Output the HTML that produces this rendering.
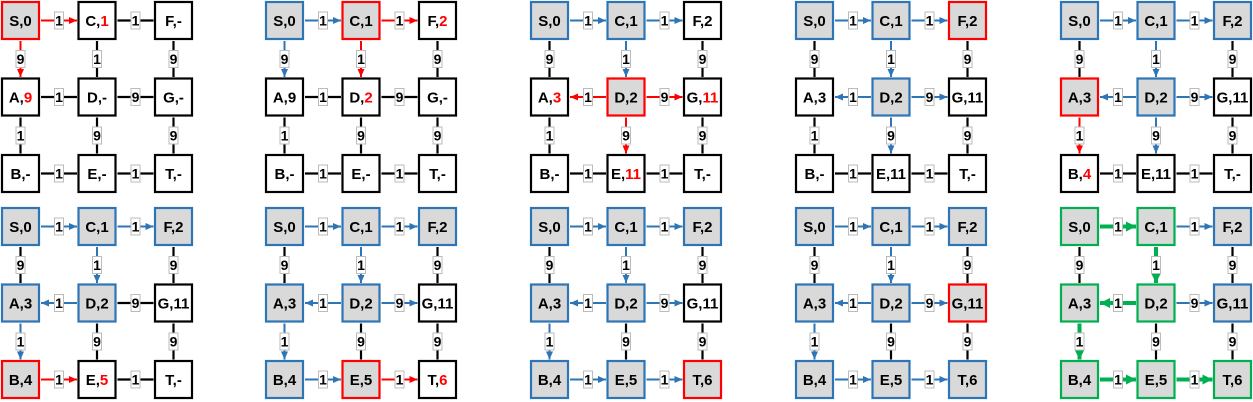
<!DOCTYPE html>
<html><head><meta charset="utf-8"><style>
html,body{margin:0;padding:0;background:#fff;}
svg{display:block;}
.k{stroke:#000;stroke-width:2.2;}
.r{stroke:#ff0000;stroke-width:2;marker-end:url(#mr);}
.b{stroke:#2e75b6;stroke-width:2;marker-end:url(#mb);}
.g{stroke:#00b050;stroke-width:4;marker-end:url(#mg);}
.n{fill:#fff;stroke:#000;stroke-width:2.2;}
.nb{fill:#d9d9d9;stroke:#2e75b6;stroke-width:2.2;}
.nr{fill:#d9d9d9;stroke:#ff0000;stroke-width:2.2;}
.ng{fill:#d9d9d9;stroke:#00b050;stroke-width:2.2;}
.l{fill:#fff;stroke:#bbb;stroke-width:1;}
text{font-family:"Liberation Sans",Arial,sans-serif;font-weight:bold;text-anchor:middle;fill:#000;}
.t{font-size:15px;}
.e{font-size:14px;}
.rd{fill:#ff0000;}
</style></head><body>
<svg width="1253" height="402" viewBox="0 0 1253 402" xmlns="http://www.w3.org/2000/svg">
<defs>
<marker id="mr" markerUnits="userSpaceOnUse" markerWidth="8" markerHeight="7" refX="8" refY="3.5" orient="auto"><path d="M0,0L8,3.5L0,7z" fill="#ff0000"/></marker>
<marker id="mb" markerUnits="userSpaceOnUse" markerWidth="8" markerHeight="7" refX="8" refY="3.5" orient="auto"><path d="M0,0L8,3.5L0,7z" fill="#2e75b6"/></marker>
<marker id="mg" markerUnits="userSpaceOnUse" markerWidth="10" markerHeight="10" refX="10" refY="5" orient="auto"><path d="M0,0L10,5L0,10z" fill="#00b050"/></marker>
</defs>

<!-- Panel 1 -->
<g transform="translate(1,1)">
<line class="r" x1="40" y1="19.5" x2="76" y2="19.5"/>
<line class="k" x1="116.5" y1="19.5" x2="152.5" y2="19.5"/>
<line class="k" x1="76" y1="96" x2="40" y2="96"/>
<line class="k" x1="116.5" y1="96" x2="152.5" y2="96"/>
<line class="k" x1="40" y1="172.5" x2="76" y2="172.5"/>
<line class="k" x1="116.5" y1="172.5" x2="152.5" y2="172.5"/>
<line class="r" x1="19.5" y1="40" x2="19.5" y2="76"/>
<line class="k" x1="96" y1="40" x2="96" y2="76"/>
<line class="k" x1="172.5" y1="40" x2="172.5" y2="76"/>
<line class="k" x1="19.5" y1="116.5" x2="19.5" y2="152.5"/>
<line class="k" x1="96" y1="116.5" x2="96" y2="152.5"/>
<line class="k" x1="172.5" y1="116.5" x2="172.5" y2="152.5"/>
<rect class="l" x="53.5" y="11" width="9" height="17"/><text class="e" x="58" y="24.5">1</text>
<rect class="l" x="130" y="11" width="9" height="17"/><text class="e" x="134.5" y="24.5">1</text>
<rect class="l" x="53.5" y="87.5" width="9" height="17"/><text class="e" x="58" y="101">1</text>
<rect class="l" x="130" y="87.5" width="9" height="17"/><text class="e" x="134.5" y="101">9</text>
<rect class="l" x="53.5" y="164" width="9" height="17"/><text class="e" x="58" y="177.5">1</text>
<rect class="l" x="130" y="164" width="9" height="17"/><text class="e" x="134.5" y="177.5">1</text>
<rect class="l" x="15" y="49.5" width="9" height="17"/><text class="e" x="19.5" y="63">9</text>
<rect class="l" x="91.5" y="49.5" width="9" height="17"/><text class="e" x="96" y="63">1</text>
<rect class="l" x="168" y="49.5" width="9" height="17"/><text class="e" x="172.5" y="63">9</text>
<rect class="l" x="15" y="126" width="9" height="17"/><text class="e" x="19.5" y="139.5">1</text>
<rect class="l" x="91.5" y="126" width="9" height="17"/><text class="e" x="96" y="139.5">9</text>
<rect class="l" x="168" y="126" width="9" height="17"/><text class="e" x="172.5" y="139.5">9</text>
<rect class="nr" x="1" y="1" width="37" height="37"/><text class="t" x="19.5" y="25">S,0</text>
<rect class="n" x="77.5" y="1" width="37" height="37"/><text class="t" x="96" y="25">C,<tspan class="rd">1</tspan></text>
<rect class="n" x="154" y="1" width="37" height="37"/><text class="t" x="172.5" y="25">F,-</text>
<rect class="n" x="1" y="77.5" width="37" height="37"/><text class="t" x="19.5" y="101.5">A,<tspan class="rd">9</tspan></text>
<rect class="n" x="77.5" y="77.5" width="37" height="37"/><text class="t" x="96" y="101.5">D,-</text>
<rect class="n" x="154" y="77.5" width="37" height="37"/><text class="t" x="172.5" y="101.5">G,-</text>
<rect class="n" x="1" y="154" width="37" height="37"/><text class="t" x="19.5" y="178">B,-</text>
<rect class="n" x="77.5" y="154" width="37" height="37"/><text class="t" x="96" y="178">E,-</text>
<rect class="n" x="154" y="154" width="37" height="37"/><text class="t" x="172.5" y="178">T,-</text>
</g>

<!-- Panel 2 -->
<g transform="translate(265,1)">
<line class="b" x1="40" y1="19.5" x2="76" y2="19.5"/>
<line class="r" x1="116.5" y1="19.5" x2="152.5" y2="19.5"/>
<line class="k" x1="76" y1="96" x2="40" y2="96"/>
<line class="k" x1="116.5" y1="96" x2="152.5" y2="96"/>
<line class="k" x1="40" y1="172.5" x2="76" y2="172.5"/>
<line class="k" x1="116.5" y1="172.5" x2="152.5" y2="172.5"/>
<line class="b" x1="19.5" y1="40" x2="19.5" y2="76"/>
<line class="r" x1="96" y1="40" x2="96" y2="76"/>
<line class="k" x1="172.5" y1="40" x2="172.5" y2="76"/>
<line class="k" x1="19.5" y1="116.5" x2="19.5" y2="152.5"/>
<line class="k" x1="96" y1="116.5" x2="96" y2="152.5"/>
<line class="k" x1="172.5" y1="116.5" x2="172.5" y2="152.5"/>
<rect class="l" x="53.5" y="11" width="9" height="17"/><text class="e" x="58" y="24.5">1</text>
<rect class="l" x="130" y="11" width="9" height="17"/><text class="e" x="134.5" y="24.5">1</text>
<rect class="l" x="53.5" y="87.5" width="9" height="17"/><text class="e" x="58" y="101">1</text>
<rect class="l" x="130" y="87.5" width="9" height="17"/><text class="e" x="134.5" y="101">9</text>
<rect class="l" x="53.5" y="164" width="9" height="17"/><text class="e" x="58" y="177.5">1</text>
<rect class="l" x="130" y="164" width="9" height="17"/><text class="e" x="134.5" y="177.5">1</text>
<rect class="l" x="15" y="49.5" width="9" height="17"/><text class="e" x="19.5" y="63">9</text>
<rect class="l" x="91.5" y="49.5" width="9" height="17"/><text class="e" x="96" y="63">1</text>
<rect class="l" x="168" y="49.5" width="9" height="17"/><text class="e" x="172.5" y="63">9</text>
<rect class="l" x="15" y="126" width="9" height="17"/><text class="e" x="19.5" y="139.5">1</text>
<rect class="l" x="91.5" y="126" width="9" height="17"/><text class="e" x="96" y="139.5">9</text>
<rect class="l" x="168" y="126" width="9" height="17"/><text class="e" x="172.5" y="139.5">9</text>
<rect class="nb" x="1" y="1" width="37" height="37"/><text class="t" x="19.5" y="25">S,0</text>
<rect class="nr" x="77.5" y="1" width="37" height="37"/><text class="t" x="96" y="25">C,1</text>
<rect class="n" x="154" y="1" width="37" height="37"/><text class="t" x="172.5" y="25">F,<tspan class="rd">2</tspan></text>
<rect class="n" x="1" y="77.5" width="37" height="37"/><text class="t" x="19.5" y="101.5">A,9</text>
<rect class="n" x="77.5" y="77.5" width="37" height="37"/><text class="t" x="96" y="101.5">D,<tspan class="rd">2</tspan></text>
<rect class="n" x="154" y="77.5" width="37" height="37"/><text class="t" x="172.5" y="101.5">G,-</text>
<rect class="n" x="1" y="154" width="37" height="37"/><text class="t" x="19.5" y="178">B,-</text>
<rect class="n" x="77.5" y="154" width="37" height="37"/><text class="t" x="96" y="178">E,-</text>
<rect class="n" x="154" y="154" width="37" height="37"/><text class="t" x="172.5" y="178">T,-</text>
</g>

<!-- Panel 3 -->
<g transform="translate(530,1)">
<line class="b" x1="40" y1="19.5" x2="76" y2="19.5"/>
<line class="b" x1="116.5" y1="19.5" x2="152.5" y2="19.5"/>
<line class="r" x1="76" y1="96" x2="40" y2="96"/>
<line class="r" x1="116.5" y1="96" x2="152.5" y2="96"/>
<line class="k" x1="40" y1="172.5" x2="76" y2="172.5"/>
<line class="k" x1="116.5" y1="172.5" x2="152.5" y2="172.5"/>
<line class="k" x1="19.5" y1="40" x2="19.5" y2="76"/>
<line class="b" x1="96" y1="40" x2="96" y2="76"/>
<line class="k" x1="172.5" y1="40" x2="172.5" y2="76"/>
<line class="k" x1="19.5" y1="116.5" x2="19.5" y2="152.5"/>
<line class="r" x1="96" y1="116.5" x2="96" y2="152.5"/>
<line class="k" x1="172.5" y1="116.5" x2="172.5" y2="152.5"/>
<rect class="l" x="53.5" y="11" width="9" height="17"/><text class="e" x="58" y="24.5">1</text>
<rect class="l" x="130" y="11" width="9" height="17"/><text class="e" x="134.5" y="24.5">1</text>
<rect class="l" x="53.5" y="87.5" width="9" height="17"/><text class="e" x="58" y="101">1</text>
<rect class="l" x="130" y="87.5" width="9" height="17"/><text class="e" x="134.5" y="101">9</text>
<rect class="l" x="53.5" y="164" width="9" height="17"/><text class="e" x="58" y="177.5">1</text>
<rect class="l" x="130" y="164" width="9" height="17"/><text class="e" x="134.5" y="177.5">1</text>
<rect class="l" x="15" y="49.5" width="9" height="17"/><text class="e" x="19.5" y="63">9</text>
<rect class="l" x="91.5" y="49.5" width="9" height="17"/><text class="e" x="96" y="63">1</text>
<rect class="l" x="168" y="49.5" width="9" height="17"/><text class="e" x="172.5" y="63">9</text>
<rect class="l" x="15" y="126" width="9" height="17"/><text class="e" x="19.5" y="139.5">1</text>
<rect class="l" x="91.5" y="126" width="9" height="17"/><text class="e" x="96" y="139.5">9</text>
<rect class="l" x="168" y="126" width="9" height="17"/><text class="e" x="172.5" y="139.5">9</text>
<rect class="nb" x="1" y="1" width="37" height="37"/><text class="t" x="19.5" y="25">S,0</text>
<rect class="nb" x="77.5" y="1" width="37" height="37"/><text class="t" x="96" y="25">C,1</text>
<rect class="n" x="154" y="1" width="37" height="37"/><text class="t" x="172.5" y="25">F,2</text>
<rect class="n" x="1" y="77.5" width="37" height="37"/><text class="t" x="19.5" y="101.5">A,<tspan class="rd">3</tspan></text>
<rect class="nr" x="77.5" y="77.5" width="37" height="37"/><text class="t" x="96" y="101.5">D,2</text>
<rect class="n" x="154" y="77.5" width="37" height="37"/><text class="t" x="172.5" y="101.5">G,<tspan class="rd">11</tspan></text>
<rect class="n" x="1" y="154" width="37" height="37"/><text class="t" x="19.5" y="178">B,-</text>
<rect class="n" x="77.5" y="154" width="37" height="37"/><text class="t" x="96" y="178">E,<tspan class="rd">11</tspan></text>
<rect class="n" x="154" y="154" width="37" height="37"/><text class="t" x="172.5" y="178">T,-</text>
</g>

<!-- Panel 4 -->
<g transform="translate(795,1)">
<line class="b" x1="40" y1="19.5" x2="76" y2="19.5"/>
<line class="b" x1="116.5" y1="19.5" x2="152.5" y2="19.5"/>
<line class="b" x1="76" y1="96" x2="40" y2="96"/>
<line class="b" x1="116.5" y1="96" x2="152.5" y2="96"/>
<line class="k" x1="40" y1="172.5" x2="76" y2="172.5"/>
<line class="k" x1="116.5" y1="172.5" x2="152.5" y2="172.5"/>
<line class="k" x1="19.5" y1="40" x2="19.5" y2="76"/>
<line class="b" x1="96" y1="40" x2="96" y2="76"/>
<line class="k" x1="172.5" y1="40" x2="172.5" y2="76"/>
<line class="k" x1="19.5" y1="116.5" x2="19.5" y2="152.5"/>
<line class="b" x1="96" y1="116.5" x2="96" y2="152.5"/>
<line class="k" x1="172.5" y1="116.5" x2="172.5" y2="152.5"/>
<rect class="l" x="53.5" y="11" width="9" height="17"/><text class="e" x="58" y="24.5">1</text>
<rect class="l" x="130" y="11" width="9" height="17"/><text class="e" x="134.5" y="24.5">1</text>
<rect class="l" x="53.5" y="87.5" width="9" height="17"/><text class="e" x="58" y="101">1</text>
<rect class="l" x="130" y="87.5" width="9" height="17"/><text class="e" x="134.5" y="101">9</text>
<rect class="l" x="53.5" y="164" width="9" height="17"/><text class="e" x="58" y="177.5">1</text>
<rect class="l" x="130" y="164" width="9" height="17"/><text class="e" x="134.5" y="177.5">1</text>
<rect class="l" x="15" y="49.5" width="9" height="17"/><text class="e" x="19.5" y="63">9</text>
<rect class="l" x="91.5" y="49.5" width="9" height="17"/><text class="e" x="96" y="63">1</text>
<rect class="l" x="168" y="49.5" width="9" height="17"/><text class="e" x="172.5" y="63">9</text>
<rect class="l" x="15" y="126" width="9" height="17"/><text class="e" x="19.5" y="139.5">1</text>
<rect class="l" x="91.5" y="126" width="9" height="17"/><text class="e" x="96" y="139.5">9</text>
<rect class="l" x="168" y="126" width="9" height="17"/><text class="e" x="172.5" y="139.5">9</text>
<rect class="nb" x="1" y="1" width="37" height="37"/><text class="t" x="19.5" y="25">S,0</text>
<rect class="nb" x="77.5" y="1" width="37" height="37"/><text class="t" x="96" y="25">C,1</text>
<rect class="nr" x="154" y="1" width="37" height="37"/><text class="t" x="172.5" y="25">F,2</text>
<rect class="n" x="1" y="77.5" width="37" height="37"/><text class="t" x="19.5" y="101.5">A,3</text>
<rect class="nb" x="77.5" y="77.5" width="37" height="37"/><text class="t" x="96" y="101.5">D,2</text>
<rect class="n" x="154" y="77.5" width="37" height="37"/><text class="t" x="172.5" y="101.5">G,11</text>
<rect class="n" x="1" y="154" width="37" height="37"/><text class="t" x="19.5" y="178">B,-</text>
<rect class="n" x="77.5" y="154" width="37" height="37"/><text class="t" x="96" y="178">E,11</text>
<rect class="n" x="154" y="154" width="37" height="37"/><text class="t" x="172.5" y="178">T,-</text>
</g>

<!-- Panel 5 -->
<g transform="translate(1060,1)">
<line class="b" x1="40" y1="19.5" x2="76" y2="19.5"/>
<line class="b" x1="116.5" y1="19.5" x2="152.5" y2="19.5"/>
<line class="b" x1="76" y1="96" x2="40" y2="96"/>
<line class="b" x1="116.5" y1="96" x2="152.5" y2="96"/>
<line class="k" x1="40" y1="172.5" x2="76" y2="172.5"/>
<line class="k" x1="116.5" y1="172.5" x2="152.5" y2="172.5"/>
<line class="k" x1="19.5" y1="40" x2="19.5" y2="76"/>
<line class="b" x1="96" y1="40" x2="96" y2="76"/>
<line class="k" x1="172.5" y1="40" x2="172.5" y2="76"/>
<line class="r" x1="19.5" y1="116.5" x2="19.5" y2="152.5"/>
<line class="b" x1="96" y1="116.5" x2="96" y2="152.5"/>
<line class="k" x1="172.5" y1="116.5" x2="172.5" y2="152.5"/>
<rect class="l" x="53.5" y="11" width="9" height="17"/><text class="e" x="58" y="24.5">1</text>
<rect class="l" x="130" y="11" width="9" height="17"/><text class="e" x="134.5" y="24.5">1</text>
<rect class="l" x="53.5" y="87.5" width="9" height="17"/><text class="e" x="58" y="101">1</text>
<rect class="l" x="130" y="87.5" width="9" height="17"/><text class="e" x="134.5" y="101">9</text>
<rect class="l" x="53.5" y="164" width="9" height="17"/><text class="e" x="58" y="177.5">1</text>
<rect class="l" x="130" y="164" width="9" height="17"/><text class="e" x="134.5" y="177.5">1</text>
<rect class="l" x="15" y="49.5" width="9" height="17"/><text class="e" x="19.5" y="63">9</text>
<rect class="l" x="91.5" y="49.5" width="9" height="17"/><text class="e" x="96" y="63">1</text>
<rect class="l" x="168" y="49.5" width="9" height="17"/><text class="e" x="172.5" y="63">9</text>
<rect class="l" x="15" y="126" width="9" height="17"/><text class="e" x="19.5" y="139.5">1</text>
<rect class="l" x="91.5" y="126" width="9" height="17"/><text class="e" x="96" y="139.5">9</text>
<rect class="l" x="168" y="126" width="9" height="17"/><text class="e" x="172.5" y="139.5">9</text>
<rect class="nb" x="1" y="1" width="37" height="37"/><text class="t" x="19.5" y="25">S,0</text>
<rect class="nb" x="77.5" y="1" width="37" height="37"/><text class="t" x="96" y="25">C,1</text>
<rect class="nb" x="154" y="1" width="37" height="37"/><text class="t" x="172.5" y="25">F,2</text>
<rect class="nr" x="1" y="77.5" width="37" height="37"/><text class="t" x="19.5" y="101.5">A,3</text>
<rect class="nb" x="77.5" y="77.5" width="37" height="37"/><text class="t" x="96" y="101.5">D,2</text>
<rect class="n" x="154" y="77.5" width="37" height="37"/><text class="t" x="172.5" y="101.5">G,11</text>
<rect class="n" x="1" y="154" width="37" height="37"/><text class="t" x="19.5" y="178">B,<tspan class="rd">4</tspan></text>
<rect class="n" x="77.5" y="154" width="37" height="37"/><text class="t" x="96" y="178">E,11</text>
<rect class="n" x="154" y="154" width="37" height="37"/><text class="t" x="172.5" y="178">T,-</text>
</g>

<!-- Panel 6 -->
<g transform="translate(1,207)">
<line class="b" x1="40" y1="19.5" x2="76" y2="19.5"/>
<line class="b" x1="116.5" y1="19.5" x2="152.5" y2="19.5"/>
<line class="b" x1="76" y1="96" x2="40" y2="96"/>
<line class="k" x1="116.5" y1="96" x2="152.5" y2="96"/>
<line class="r" x1="40" y1="172.5" x2="76" y2="172.5"/>
<line class="k" x1="116.5" y1="172.5" x2="152.5" y2="172.5"/>
<line class="k" x1="19.5" y1="40" x2="19.5" y2="76"/>
<line class="b" x1="96" y1="40" x2="96" y2="76"/>
<line class="k" x1="172.5" y1="40" x2="172.5" y2="76"/>
<line class="b" x1="19.5" y1="116.5" x2="19.5" y2="152.5"/>
<line class="k" x1="96" y1="116.5" x2="96" y2="152.5"/>
<line class="k" x1="172.5" y1="116.5" x2="172.5" y2="152.5"/>
<rect class="l" x="53.5" y="11" width="9" height="17"/><text class="e" x="58" y="24.5">1</text>
<rect class="l" x="130" y="11" width="9" height="17"/><text class="e" x="134.5" y="24.5">1</text>
<rect class="l" x="53.5" y="87.5" width="9" height="17"/><text class="e" x="58" y="101">1</text>
<rect class="l" x="130" y="87.5" width="9" height="17"/><text class="e" x="134.5" y="101">9</text>
<rect class="l" x="53.5" y="164" width="9" height="17"/><text class="e" x="58" y="177.5">1</text>
<rect class="l" x="130" y="164" width="9" height="17"/><text class="e" x="134.5" y="177.5">1</text>
<rect class="l" x="15" y="49.5" width="9" height="17"/><text class="e" x="19.5" y="63">9</text>
<rect class="l" x="91.5" y="49.5" width="9" height="17"/><text class="e" x="96" y="63">1</text>
<rect class="l" x="168" y="49.5" width="9" height="17"/><text class="e" x="172.5" y="63">9</text>
<rect class="l" x="15" y="126" width="9" height="17"/><text class="e" x="19.5" y="139.5">1</text>
<rect class="l" x="91.5" y="126" width="9" height="17"/><text class="e" x="96" y="139.5">9</text>
<rect class="l" x="168" y="126" width="9" height="17"/><text class="e" x="172.5" y="139.5">9</text>
<rect class="nb" x="1" y="1" width="37" height="37"/><text class="t" x="19.5" y="25">S,0</text>
<rect class="nb" x="77.5" y="1" width="37" height="37"/><text class="t" x="96" y="25">C,1</text>
<rect class="nb" x="154" y="1" width="37" height="37"/><text class="t" x="172.5" y="25">F,2</text>
<rect class="nb" x="1" y="77.5" width="37" height="37"/><text class="t" x="19.5" y="101.5">A,3</text>
<rect class="nb" x="77.5" y="77.5" width="37" height="37"/><text class="t" x="96" y="101.5">D,2</text>
<rect class="n" x="154" y="77.5" width="37" height="37"/><text class="t" x="172.5" y="101.5">G,11</text>
<rect class="nr" x="1" y="154" width="37" height="37"/><text class="t" x="19.5" y="178">B,4</text>
<rect class="n" x="77.5" y="154" width="37" height="37"/><text class="t" x="96" y="178">E,<tspan class="rd">5</tspan></text>
<rect class="n" x="154" y="154" width="37" height="37"/><text class="t" x="172.5" y="178">T,-</text>
</g>

<!-- Panel 7 -->
<g transform="translate(265,207)">
<line class="b" x1="40" y1="19.5" x2="76" y2="19.5"/>
<line class="b" x1="116.5" y1="19.5" x2="152.5" y2="19.5"/>
<line class="b" x1="76" y1="96" x2="40" y2="96"/>
<line class="b" x1="116.5" y1="96" x2="152.5" y2="96"/>
<line class="b" x1="40" y1="172.5" x2="76" y2="172.5"/>
<line class="r" x1="116.5" y1="172.5" x2="152.5" y2="172.5"/>
<line class="k" x1="19.5" y1="40" x2="19.5" y2="76"/>
<line class="b" x1="96" y1="40" x2="96" y2="76"/>
<line class="k" x1="172.5" y1="40" x2="172.5" y2="76"/>
<line class="b" x1="19.5" y1="116.5" x2="19.5" y2="152.5"/>
<line class="k" x1="96" y1="116.5" x2="96" y2="152.5"/>
<line class="k" x1="172.5" y1="116.5" x2="172.5" y2="152.5"/>
<rect class="l" x="53.5" y="11" width="9" height="17"/><text class="e" x="58" y="24.5">1</text>
<rect class="l" x="130" y="11" width="9" height="17"/><text class="e" x="134.5" y="24.5">1</text>
<rect class="l" x="53.5" y="87.5" width="9" height="17"/><text class="e" x="58" y="101">1</text>
<rect class="l" x="130" y="87.5" width="9" height="17"/><text class="e" x="134.5" y="101">9</text>
<rect class="l" x="53.5" y="164" width="9" height="17"/><text class="e" x="58" y="177.5">1</text>
<rect class="l" x="130" y="164" width="9" height="17"/><text class="e" x="134.5" y="177.5">1</text>
<rect class="l" x="15" y="49.5" width="9" height="17"/><text class="e" x="19.5" y="63">9</text>
<rect class="l" x="91.5" y="49.5" width="9" height="17"/><text class="e" x="96" y="63">1</text>
<rect class="l" x="168" y="49.5" width="9" height="17"/><text class="e" x="172.5" y="63">9</text>
<rect class="l" x="15" y="126" width="9" height="17"/><text class="e" x="19.5" y="139.5">1</text>
<rect class="l" x="91.5" y="126" width="9" height="17"/><text class="e" x="96" y="139.5">9</text>
<rect class="l" x="168" y="126" width="9" height="17"/><text class="e" x="172.5" y="139.5">9</text>
<rect class="nb" x="1" y="1" width="37" height="37"/><text class="t" x="19.5" y="25">S,0</text>
<rect class="nb" x="77.5" y="1" width="37" height="37"/><text class="t" x="96" y="25">C,1</text>
<rect class="nb" x="154" y="1" width="37" height="37"/><text class="t" x="172.5" y="25">F,2</text>
<rect class="nb" x="1" y="77.5" width="37" height="37"/><text class="t" x="19.5" y="101.5">A,3</text>
<rect class="nb" x="77.5" y="77.5" width="37" height="37"/><text class="t" x="96" y="101.5">D,2</text>
<rect class="n" x="154" y="77.5" width="37" height="37"/><text class="t" x="172.5" y="101.5">G,11</text>
<rect class="nb" x="1" y="154" width="37" height="37"/><text class="t" x="19.5" y="178">B,4</text>
<rect class="nr" x="77.5" y="154" width="37" height="37"/><text class="t" x="96" y="178">E,5</text>
<rect class="n" x="154" y="154" width="37" height="37"/><text class="t" x="172.5" y="178">T,<tspan class="rd">6</tspan></text>
</g>

<!-- Panel 8 -->
<g transform="translate(530,207)">
<line class="b" x1="40" y1="19.5" x2="76" y2="19.5"/>
<line class="b" x1="116.5" y1="19.5" x2="152.5" y2="19.5"/>
<line class="b" x1="76" y1="96" x2="40" y2="96"/>
<line class="b" x1="116.5" y1="96" x2="152.5" y2="96"/>
<line class="b" x1="40" y1="172.5" x2="76" y2="172.5"/>
<line class="b" x1="116.5" y1="172.5" x2="152.5" y2="172.5"/>
<line class="k" x1="19.5" y1="40" x2="19.5" y2="76"/>
<line class="b" x1="96" y1="40" x2="96" y2="76"/>
<line class="k" x1="172.5" y1="40" x2="172.5" y2="76"/>
<line class="b" x1="19.5" y1="116.5" x2="19.5" y2="152.5"/>
<line class="k" x1="96" y1="116.5" x2="96" y2="152.5"/>
<line class="k" x1="172.5" y1="116.5" x2="172.5" y2="152.5"/>
<rect class="l" x="53.5" y="11" width="9" height="17"/><text class="e" x="58" y="24.5">1</text>
<rect class="l" x="130" y="11" width="9" height="17"/><text class="e" x="134.5" y="24.5">1</text>
<rect class="l" x="53.5" y="87.5" width="9" height="17"/><text class="e" x="58" y="101">1</text>
<rect class="l" x="130" y="87.5" width="9" height="17"/><text class="e" x="134.5" y="101">9</text>
<rect class="l" x="53.5" y="164" width="9" height="17"/><text class="e" x="58" y="177.5">1</text>
<rect class="l" x="130" y="164" width="9" height="17"/><text class="e" x="134.5" y="177.5">1</text>
<rect class="l" x="15" y="49.5" width="9" height="17"/><text class="e" x="19.5" y="63">9</text>
<rect class="l" x="91.5" y="49.5" width="9" height="17"/><text class="e" x="96" y="63">1</text>
<rect class="l" x="168" y="49.5" width="9" height="17"/><text class="e" x="172.5" y="63">9</text>
<rect class="l" x="15" y="126" width="9" height="17"/><text class="e" x="19.5" y="139.5">1</text>
<rect class="l" x="91.5" y="126" width="9" height="17"/><text class="e" x="96" y="139.5">9</text>
<rect class="l" x="168" y="126" width="9" height="17"/><text class="e" x="172.5" y="139.5">9</text>
<rect class="nb" x="1" y="1" width="37" height="37"/><text class="t" x="19.5" y="25">S,0</text>
<rect class="nb" x="77.5" y="1" width="37" height="37"/><text class="t" x="96" y="25">C,1</text>
<rect class="nb" x="154" y="1" width="37" height="37"/><text class="t" x="172.5" y="25">F,2</text>
<rect class="nb" x="1" y="77.5" width="37" height="37"/><text class="t" x="19.5" y="101.5">A,3</text>
<rect class="nb" x="77.5" y="77.5" width="37" height="37"/><text class="t" x="96" y="101.5">D,2</text>
<rect class="n" x="154" y="77.5" width="37" height="37"/><text class="t" x="172.5" y="101.5">G,11</text>
<rect class="nb" x="1" y="154" width="37" height="37"/><text class="t" x="19.5" y="178">B,4</text>
<rect class="nb" x="77.5" y="154" width="37" height="37"/><text class="t" x="96" y="178">E,5</text>
<rect class="nr" x="154" y="154" width="37" height="37"/><text class="t" x="172.5" y="178">T,6</text>
</g>

<!-- Panel 9 -->
<g transform="translate(795,207)">
<line class="b" x1="40" y1="19.5" x2="76" y2="19.5"/>
<line class="b" x1="116.5" y1="19.5" x2="152.5" y2="19.5"/>
<line class="b" x1="76" y1="96" x2="40" y2="96"/>
<line class="b" x1="116.5" y1="96" x2="152.5" y2="96"/>
<line class="b" x1="40" y1="172.5" x2="76" y2="172.5"/>
<line class="b" x1="116.5" y1="172.5" x2="152.5" y2="172.5"/>
<line class="k" x1="19.5" y1="40" x2="19.5" y2="76"/>
<line class="b" x1="96" y1="40" x2="96" y2="76"/>
<line class="k" x1="172.5" y1="40" x2="172.5" y2="76"/>
<line class="b" x1="19.5" y1="116.5" x2="19.5" y2="152.5"/>
<line class="k" x1="96" y1="116.5" x2="96" y2="152.5"/>
<line class="k" x1="172.5" y1="116.5" x2="172.5" y2="152.5"/>
<rect class="l" x="53.5" y="11" width="9" height="17"/><text class="e" x="58" y="24.5">1</text>
<rect class="l" x="130" y="11" width="9" height="17"/><text class="e" x="134.5" y="24.5">1</text>
<rect class="l" x="53.5" y="87.5" width="9" height="17"/><text class="e" x="58" y="101">1</text>
<rect class="l" x="130" y="87.5" width="9" height="17"/><text class="e" x="134.5" y="101">9</text>
<rect class="l" x="53.5" y="164" width="9" height="17"/><text class="e" x="58" y="177.5">1</text>
<rect class="l" x="130" y="164" width="9" height="17"/><text class="e" x="134.5" y="177.5">1</text>
<rect class="l" x="15" y="49.5" width="9" height="17"/><text class="e" x="19.5" y="63">9</text>
<rect class="l" x="91.5" y="49.5" width="9" height="17"/><text class="e" x="96" y="63">1</text>
<rect class="l" x="168" y="49.5" width="9" height="17"/><text class="e" x="172.5" y="63">9</text>
<rect class="l" x="15" y="126" width="9" height="17"/><text class="e" x="19.5" y="139.5">1</text>
<rect class="l" x="91.5" y="126" width="9" height="17"/><text class="e" x="96" y="139.5">9</text>
<rect class="l" x="168" y="126" width="9" height="17"/><text class="e" x="172.5" y="139.5">9</text>
<rect class="nb" x="1" y="1" width="37" height="37"/><text class="t" x="19.5" y="25">S,0</text>
<rect class="nb" x="77.5" y="1" width="37" height="37"/><text class="t" x="96" y="25">C,1</text>
<rect class="nb" x="154" y="1" width="37" height="37"/><text class="t" x="172.5" y="25">F,2</text>
<rect class="nb" x="1" y="77.5" width="37" height="37"/><text class="t" x="19.5" y="101.5">A,3</text>
<rect class="nb" x="77.5" y="77.5" width="37" height="37"/><text class="t" x="96" y="101.5">D,2</text>
<rect class="nr" x="154" y="77.5" width="37" height="37"/><text class="t" x="172.5" y="101.5">G,11</text>
<rect class="nb" x="1" y="154" width="37" height="37"/><text class="t" x="19.5" y="178">B,4</text>
<rect class="nb" x="77.5" y="154" width="37" height="37"/><text class="t" x="96" y="178">E,5</text>
<rect class="nb" x="154" y="154" width="37" height="37"/><text class="t" x="172.5" y="178">T,6</text>
</g>

<!-- Panel 10 -->
<g transform="translate(1060,207)">
<line class="g" x1="40" y1="19.5" x2="76" y2="19.5"/>
<line class="b" x1="116.5" y1="19.5" x2="152.5" y2="19.5"/>
<line class="g" x1="76" y1="96" x2="40" y2="96"/>
<line class="b" x1="116.5" y1="96" x2="152.5" y2="96"/>
<line class="g" x1="40" y1="172.5" x2="76" y2="172.5"/>
<line class="g" x1="116.5" y1="172.5" x2="152.5" y2="172.5"/>
<line class="k" x1="19.5" y1="40" x2="19.5" y2="76"/>
<line class="g" x1="96" y1="40" x2="96" y2="76"/>
<line class="k" x1="172.5" y1="40" x2="172.5" y2="76"/>
<line class="g" x1="19.5" y1="116.5" x2="19.5" y2="152.5"/>
<line class="k" x1="96" y1="116.5" x2="96" y2="152.5"/>
<line class="k" x1="172.5" y1="116.5" x2="172.5" y2="152.5"/>
<rect class="l" x="53.5" y="11" width="9" height="17"/><text class="e" x="58" y="24.5">1</text>
<rect class="l" x="130" y="11" width="9" height="17"/><text class="e" x="134.5" y="24.5">1</text>
<rect class="l" x="53.5" y="87.5" width="9" height="17"/><text class="e" x="58" y="101">1</text>
<rect class="l" x="130" y="87.5" width="9" height="17"/><text class="e" x="134.5" y="101">9</text>
<rect class="l" x="53.5" y="164" width="9" height="17"/><text class="e" x="58" y="177.5">1</text>
<rect class="l" x="130" y="164" width="9" height="17"/><text class="e" x="134.5" y="177.5">1</text>
<rect class="l" x="15" y="49.5" width="9" height="17"/><text class="e" x="19.5" y="63">9</text>
<rect class="l" x="91.5" y="49.5" width="9" height="17"/><text class="e" x="96" y="63">1</text>
<rect class="l" x="168" y="49.5" width="9" height="17"/><text class="e" x="172.5" y="63">9</text>
<rect class="l" x="15" y="126" width="9" height="17"/><text class="e" x="19.5" y="139.5">1</text>
<rect class="l" x="91.5" y="126" width="9" height="17"/><text class="e" x="96" y="139.5">9</text>
<rect class="l" x="168" y="126" width="9" height="17"/><text class="e" x="172.5" y="139.5">9</text>
<rect class="ng" x="1" y="1" width="37" height="37"/><text class="t" x="19.5" y="25">S,0</text>
<rect class="ng" x="77.5" y="1" width="37" height="37"/><text class="t" x="96" y="25">C,1</text>
<rect class="nb" x="154" y="1" width="37" height="37"/><text class="t" x="172.5" y="25">F,2</text>
<rect class="ng" x="1" y="77.5" width="37" height="37"/><text class="t" x="19.5" y="101.5">A,3</text>
<rect class="ng" x="77.5" y="77.5" width="37" height="37"/><text class="t" x="96" y="101.5">D,2</text>
<rect class="nb" x="154" y="77.5" width="37" height="37"/><text class="t" x="172.5" y="101.5">G,11</text>
<rect class="ng" x="1" y="154" width="37" height="37"/><text class="t" x="19.5" y="178">B,4</text>
<rect class="ng" x="77.5" y="154" width="37" height="37"/><text class="t" x="96" y="178">E,5</text>
<rect class="ng" x="154" y="154" width="37" height="37"/><text class="t" x="172.5" y="178">T,6</text>
</g>
</svg>
</body></html>
